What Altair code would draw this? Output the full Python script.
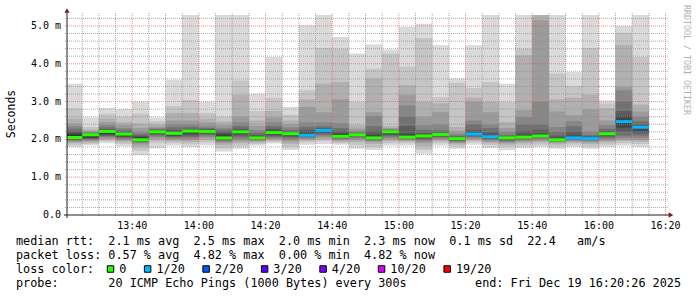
import altair as alt
import pandas as pd

MONO = "DejaVu Sans Mono"
NB = "\u00a0"

# ---------------- data ----------------
# start of each 5-minute step, minutes after midnight (13:20 ... 16:10)
step_start = list(range(800, 975, 5))
STEP = 5
T_START = 13 * 60 + 20 + 26 / 60   # 13:20:26
T_END = 16 * 60 + 20 + 26 / 60     # 16:20:26
Y_MAX = 5.29                       # ms

# smoke band edges (ms): hiN / loN are the upper / lower edge of band N (1 = outermost)
hi1 = [3.47, 2.58, 2.83, 2.80, 3.00, 2.58, 3.58, 5.29, 3.00, 5.29, 5.29, 3.21, 4.18, 2.86, 5.02, 5.29, 4.71, 4.27, 4.51, 4.38, 4.97, 5.06, 4.49, 3.61, 4.49, 5.29, 3.47, 5.29, 5.29, 5.29, 3.78, 5.29, 3.03, 5.00, 5.29]
hi2 = [2.82, 2.33, 2.68, 2.60, 2.68, 2.48, 2.88, 3.04, 2.70, 2.60, 3.56, 2.75, 3.10, 2.65, 3.30, 4.42, 4.40, 2.99, 3.87, 4.27, 3.92, 4.68, 3.12, 3.50, 3.36, 3.52, 2.99, 4.40, 5.29, 3.74, 3.41, 4.42, 2.95, 4.82, 4.18]
hi3 = [2.55, 2.26, 2.55, 2.45, 2.42, 2.40, 2.70, 2.70, 2.55, 2.47, 3.17, 2.50, 2.75, 2.50, 3.06, 3.47, 3.52, 2.37, 3.61, 2.35, 3.43, 2.99, 2.95, 2.33, 3.10, 2.99, 2.46, 4.22, 5.29, 3.06, 3.10, 3.18, 2.82, 4.49, 2.92]
hi4 = [2.42, 2.22, 2.45, 2.38, 2.30, 2.34, 2.50, 2.50, 2.45, 2.38, 2.60, 2.35, 2.58, 2.40, 2.86, 2.72, 3.06, 2.28, 2.72, 2.30, 3.17, 2.60, 2.73, 2.22, 2.99, 2.72, 2.30, 2.77, 5.15, 2.74, 2.64, 2.80, 2.50, 3.39, 2.74]
hi5 = [2.35, 2.19, 2.38, 2.30, 2.20, 2.30, 2.40, 2.40, 2.35, 2.30, 2.45, 2.25, 2.45, 2.32, 2.45, 2.45, 2.43, 2.22, 2.62, 2.27, 2.90, 2.37, 2.40, 2.15, 2.50, 2.40, 2.20, 2.59, 2.99, 2.33, 2.48, 2.21, 2.38, 3.30, 2.60]
hi6 = [2.28, 2.17, 2.32, 2.25, 2.14, 2.27, 2.32, 2.33, 2.30, 2.25, 2.35, 2.18, 2.35, 2.25, 2.33, 2.35, 2.30, 2.18, 2.35, 2.25, 2.60, 2.25, 2.24, 2.10, 2.40, 2.30, 2.12, 2.40, 2.40, 2.20, 2.35, 2.12, 2.28, 3.00, 2.48]
hi7 = [2.22, 2.15, 2.27, 2.20, 2.10, 2.25, 2.25, 2.28, 2.27, 2.20, 2.28, 2.12, 2.28, 2.20, 2.25, 2.30, 2.22, 2.16, 2.22, 2.23, 2.35, 2.17, 2.18, 2.07, 2.25, 2.20, 2.08, 2.22, 2.25, 2.10, 2.20, 2.08, 2.22, 2.75, 2.40]
hi8 = [2.17, 2.14, 2.24, 2.17, 2.07, 2.23, 2.20, 2.25, 2.24, 2.15, 2.24, 2.08, 2.23, 2.18, 2.18, 2.27, 2.16, 2.14, 2.12, 2.21, 2.15, 2.13, 2.15, 2.05, 2.18, 2.12, 2.06, 2.12, 2.15, 2.04, 2.10, 2.05, 2.18, 2.62, 2.36]
hi9 = [2.12, 2.13, 2.22, 2.15, 2.04, 2.21, 2.17, 2.23, 2.22, 2.10, 2.22, 2.06, 2.20, 2.16, 2.14, 2.25, 2.12, 2.13, 2.07, 2.20, 2.09, 2.10, 2.14, 2.03, 2.16, 2.09, 2.05, 2.08, 2.11, 2.01, 2.06, 2.03, 2.16, 2.52, 2.34]
lo9 = [2.03, 2.06, 2.16, 2.10, 1.99, 2.17, 2.12, 2.18, 2.19, 2.03, 2.17, 2.02, 2.15, 2.12, 2.10, 2.22, 2.06, 2.10, 2.02, 2.16, 2.05, 2.07, 2.12, 2.00, 2.13, 2.05, 2.02, 2.05, 2.08, 1.98, 2.02, 2.01, 2.13, 2.40, 2.28]
lo8 = [2.02, 2.04, 2.13, 2.08, 1.97, 2.15, 2.10, 2.14, 2.17, 2.01, 2.14, 2.01, 2.12, 2.10, 2.09, 2.19, 2.05, 2.09, 2.01, 2.14, 2.04, 2.05, 2.10, 1.99, 2.11, 2.04, 2.00, 2.04, 2.07, 1.97, 2.01, 2.00, 2.11, 2.30, 2.22]
lo7 = [2.00, 2.02, 2.10, 2.06, 1.95, 2.13, 2.08, 2.10, 2.14, 1.99, 2.10, 2.00, 2.09, 2.07, 2.07, 2.16, 2.04, 2.07, 2.00, 2.11, 2.03, 2.02, 2.08, 1.97, 2.09, 2.02, 1.98, 2.02, 2.05, 1.96, 2.00, 1.99, 2.08, 2.20, 2.16]
lo6 = [1.98, 2.00, 2.08, 2.03, 1.93, 2.10, 2.05, 2.06, 2.11, 1.97, 2.05, 1.99, 2.06, 2.03, 2.05, 2.12, 2.02, 2.05, 1.98, 2.08, 2.01, 1.99, 2.05, 1.95, 2.06, 2.00, 1.96, 2.00, 2.03, 1.95, 1.99, 1.97, 2.04, 2.10, 2.10]
lo5 = [1.96, 1.98, 2.05, 2.00, 1.90, 2.06, 2.02, 2.02, 2.07, 1.94, 2.00, 1.97, 2.03, 1.99, 2.03, 2.08, 2.00, 2.02, 1.96, 2.04, 1.99, 1.95, 2.02, 1.93, 2.03, 1.97, 1.93, 1.97, 2.00, 1.93, 1.97, 1.95, 2.00, 2.04, 2.04]
lo4 = [1.93, 1.95, 2.02, 1.97, 1.86, 2.02, 1.99, 1.98, 2.03, 1.90, 1.95, 1.95, 2.00, 1.94, 2.00, 2.04, 1.97, 1.98, 1.93, 2.00, 1.97, 1.90, 1.99, 1.90, 2.00, 1.94, 1.90, 1.94, 1.96, 1.91, 1.94, 1.92, 1.96, 2.00, 1.99]
lo3 = [1.90, 1.92, 1.99, 1.93, 1.80, 1.97, 1.95, 1.93, 1.98, 1.85, 1.90, 1.92, 1.97, 1.88, 1.97, 2.00, 1.94, 1.93, 1.88, 1.96, 1.94, 1.82, 1.95, 1.87, 1.97, 1.90, 1.86, 1.90, 1.92, 1.87, 1.91, 1.88, 1.92, 1.96, 1.94]
lo2 = [1.85, 1.88, 1.95, 1.88, 1.70, 1.90, 1.90, 1.87, 1.92, 1.76, 1.83, 1.88, 1.93, 1.80, 1.92, 1.95, 1.90, 1.85, 1.80, 1.90, 1.90, 1.72, 1.90, 1.82, 1.92, 1.85, 1.80, 1.84, 1.86, 1.82, 1.86, 1.82, 1.86, 1.90, 1.88]
lo1 = [1.80, 1.84, 1.90, 1.82, 1.58, 1.76, 1.84, 1.80, 1.84, 1.68, 1.75, 1.84, 1.89, 1.72, 1.86, 1.88, 1.86, 1.75, 1.72, 1.84, 1.84, 1.62, 1.84, 1.75, 1.86, 1.77, 1.71, 1.77, 1.80, 1.75, 1.80, 1.75, 1.80, 1.84, 1.80]

median = [2.05, 2.12, 2.21, 2.14, 1.99, 2.20, 2.16, 2.22, 2.21, 2.04, 2.20, 2.04, 2.18, 2.15, 2.11, 2.24, 2.08, 2.12, 2.04, 2.20, 2.06, 2.09, 2.13, 2.02, 2.14, 2.07, 2.04, 2.06, 2.09, 1.99, 2.04, 2.02, 2.15, 2.47, 2.32]
loss = [0, 0, 0, 0, 0, 0, 0, 0, 0, 0, 0, 0, 0, 0, 1, 1, 0, 0, 0, 0, 0, 0, 0, 0, 1, 1, 0, 0, 0, 0, 1, 1, 0, 1, 1]

loss_levels = [0, 1, 2, 3, 4, 10, 19]
loss_labels = ["0", "1/20", "2/20", "3/20", "4/20", "10/20", "19/20"]
loss_colors = ["#26ff00", "#00b8ff", "#0059ff", "#5e00ff", "#7e00ff", "#dd00ff", "#ff0000"]
smoke_grays = ["#dadada", "#c5c5c5", "#b0b0b0", "#9b9b9b", "#868686",
               "#717171", "#5c5c5c", "#474747", "#323232"]

x_label_times = [820, 840, 860, 880, 900, 920, 940, 960, 980]
x_labels = ["13:40", "14:00", "14:20", "14:40", "15:00", "15:20", "15:40", "16:00", "16:20"]
y_label_values = [0, 1, 2, 3, 4, 5]
y_labels = ["0.0  ", "1.0 m", "2.0 m", "3.0 m", "4.0 m", "5.0 m"]
minor_x = [t for t in range(805, 980, 5) if t % 20 != 0]
minor_y = [round(0.2 * i, 1) for i in range(1, 27) if i % 5 != 0]
major_y = [1, 2, 3, 4, 5]

y_title = "Seconds"
row1 = "median rtt:  2.1 ms avg  2.5 ms max  2.0 ms min  2.3 ms now  0.1 ms sd  22.4   am/s"
row2 = "packet loss: 0.57 % avg  4.82 % max  0.00 % min  4.82 % now"
row3 = "loss color:"
row4 = "probe:       20 ICMP Echo Pings (1000 Bytes) every 300s"
row4_right = "end: Fri Dec 19 16:20:26 2025"
watermark = "RRDTOOL / TOBI OETIKER"

his = [hi1, hi2, hi3, hi4, hi5, hi6, hi7, hi8, hi9]
los = [lo1, lo2, lo3, lo4, lo5, lo6, lo7, lo8, lo9]
for arr in his + los + [median, loss]:
    assert len(arr) == len(step_start), len(arr)

# ---------------- tables ----------------
smoke_rows = []
for b in range(9):
    for k, t in enumerate(step_start):
        smoke_rows.append(dict(t0=t, t1=t + STEP, lo=los[b][k], hi=his[b][k],
                               band=b + 1, col=smoke_grays[b]))
df_smoke = pd.DataFrame(smoke_rows)

loss_color_of = dict(zip(loss_levels, loss_colors))
df_med = pd.DataFrame(dict(t0=step_start, t1=[t + STEP for t in step_start],
                           median=median, col=[loss_color_of[l] for l in loss]))

# ---------------- geometry / style ----------------
W, H = 600, 200
CHAR_W = 7.12
LEG_SIZE = 11.8
GRID = "rgba(143,143,143,0.75)"
MGRID = "rgba(222,79,79,0.6)"
AXIS = "#1f1f1f"
ARROW = "#801f1f"

xs = alt.Scale(domain=[T_START, T_END], nice=False, zero=False)
ys = alt.Scale(domain=[0, Y_MAX], nice=False, zero=False)

smoke = alt.Chart(df_smoke).mark_rect(clip=True).encode(
    x=alt.X("t0:Q", scale=xs, axis=None),
    x2="t1:Q",
    y=alt.Y("lo:Q", scale=ys, axis=None),
    y2="hi:Q",
    color=alt.Color("col:N", scale=None),
    order=alt.Order("band:Q"),
)


def vgrid(times, color):
    return alt.Chart(pd.DataFrame({"t": times})).mark_rule(
        color=color, strokeWidth=1, strokeDash=[1, 1]).encode(
        x=alt.X("t:Q", scale=xs, axis=None), y=alt.value(-2), y2=alt.value(H + 2))


def hgrid(vals, color):
    return alt.Chart(pd.DataFrame({"v": vals})).mark_rule(
        color=color, strokeWidth=1, strokeDash=[1, 1]).encode(
        y=alt.Y("v:Q", scale=ys, axis=None), x=alt.value(-2), x2=alt.value(W + 2))


med = alt.Chart(df_med).mark_rule(clip=True, strokeWidth=3).encode(
    x=alt.X("t0:Q", scale=xs, axis=None),
    x2="t1:Q",
    y=alt.Y("median:Q", scale=ys, axis=None),
    color=alt.Color("col:N", scale=None),
)

# tick labels placed through the same scales
x_tick_labels = alt.Chart(pd.DataFrame({"t": x_label_times, "lab": x_labels})).mark_text(
    align="center", baseline="alphabetic", font=MONO, fontSize=10, color="#000000").encode(
    x=alt.X("t:Q", scale=xs, axis=None), y=alt.value(H + 13.5), text="lab:N")
y_tick_labels = alt.Chart(pd.DataFrame({"v": y_label_values,
                                        "lab": [s.replace(" ", NB) for s in y_labels]})).mark_text(
    align="right", baseline="middle", font=MONO, fontSize=10, color="#000000").encode(
    y=alt.Y("v:Q", scale=ys, axis=None), x=alt.value(-6), text="lab:N")

one = pd.DataFrame({"a": [0]})
x_axis_line = alt.Chart(one).mark_rule(color=AXIS, strokeWidth=1).encode(
    x=alt.value(-3), x2=alt.value(W + 4), y=alt.value(H))
y_axis_line = alt.Chart(one).mark_rule(color=AXIS, strokeWidth=1).encode(
    x=alt.value(0), y=alt.value(-3), y2=alt.value(H + 3))
y_arrow = alt.Chart(one).mark_point(shape="triangle-up", filled=True, size=28,
                                    color=ARROW, opacity=1).encode(
    x=alt.value(0), y=alt.value(-4.5))
x_arrow = alt.Chart(one).mark_point(shape="triangle-right", filled=True, size=28,
                                    color=ARROW, opacity=1).encode(
    x=alt.value(W + 4), y=alt.value(H))


def text_layer(txt, x, y, size=LEG_SIZE, align="left", color="#000000", angle=0):
    return alt.Chart(pd.DataFrame({"t": [txt.replace(" ", NB)]})).mark_text(
        align=align, baseline="alphabetic", font=MONO, fontSize=size,
        color=color, angle=angle).encode(x=alt.value(x), y=alt.value(y), text="t:N")


# legend swatches laid out along the monospace text row
LEG_X0 = -51
sw_left = []
pos = LEG_X0 + 13 * CHAR_W - 1.8
for lab in loss_labels:
    sw_left.append(pos)
    pos += 30 + len(lab) * CHAR_W
df_leg = pd.DataFrame(dict(lab=loss_labels, col=loss_colors,
                           cx=[p + 3.75 for p in sw_left],
                           lx=[p + 12.5 for p in sw_left]))
swatches = alt.Chart(df_leg).mark_square(size=42, filled=True, stroke="#000000",
                                         strokeWidth=1, opacity=1).encode(
    x=alt.X("cx:Q", scale=None), y=alt.value(254),
    fill=alt.Fill("col:N", scale=None))
sw_labels = alt.Chart(df_leg).mark_text(align="left", baseline="alphabetic", font=MONO,
                                        fontSize=LEG_SIZE, color="#000000").encode(
    x=alt.X("lx:Q", scale=None), y=alt.value(258), text="lab:N")

layers = [
    smoke,
    vgrid(minor_x, GRID), hgrid(minor_y, GRID),
    vgrid(x_label_times, MGRID), hgrid(major_y, MGRID),
    med,
    x_axis_line, y_axis_line, y_arrow, x_arrow,
    x_tick_labels, y_tick_labels,
    text_layer(y_title, -52, 99, size=11.5, align="center", angle=270),
    text_layer(row1, LEG_X0, 230),
    text_layer(row2, LEG_X0, 244),
    text_layer(row3, LEG_X0, 258),
    text_layer(row4, LEG_X0, 272),
    text_layer(row4_right, 614, 272, align="right"),
    text_layer(watermark, 617, -10, size=8.3, color="#b0b0b0", angle=90),
    swatches, sw_labels,
]

chart = alt.layer(*layers).properties(
    width=W, height=H,
    padding={"left": 67, "top": 15, "right": 30, "bottom": 82},
    autosize=alt.AutoSizeParams(type="none"),
    background="white",
).configure_view(stroke=None)

chart.save("out.html", embed_options={"renderer": "svg", "actions": False})
